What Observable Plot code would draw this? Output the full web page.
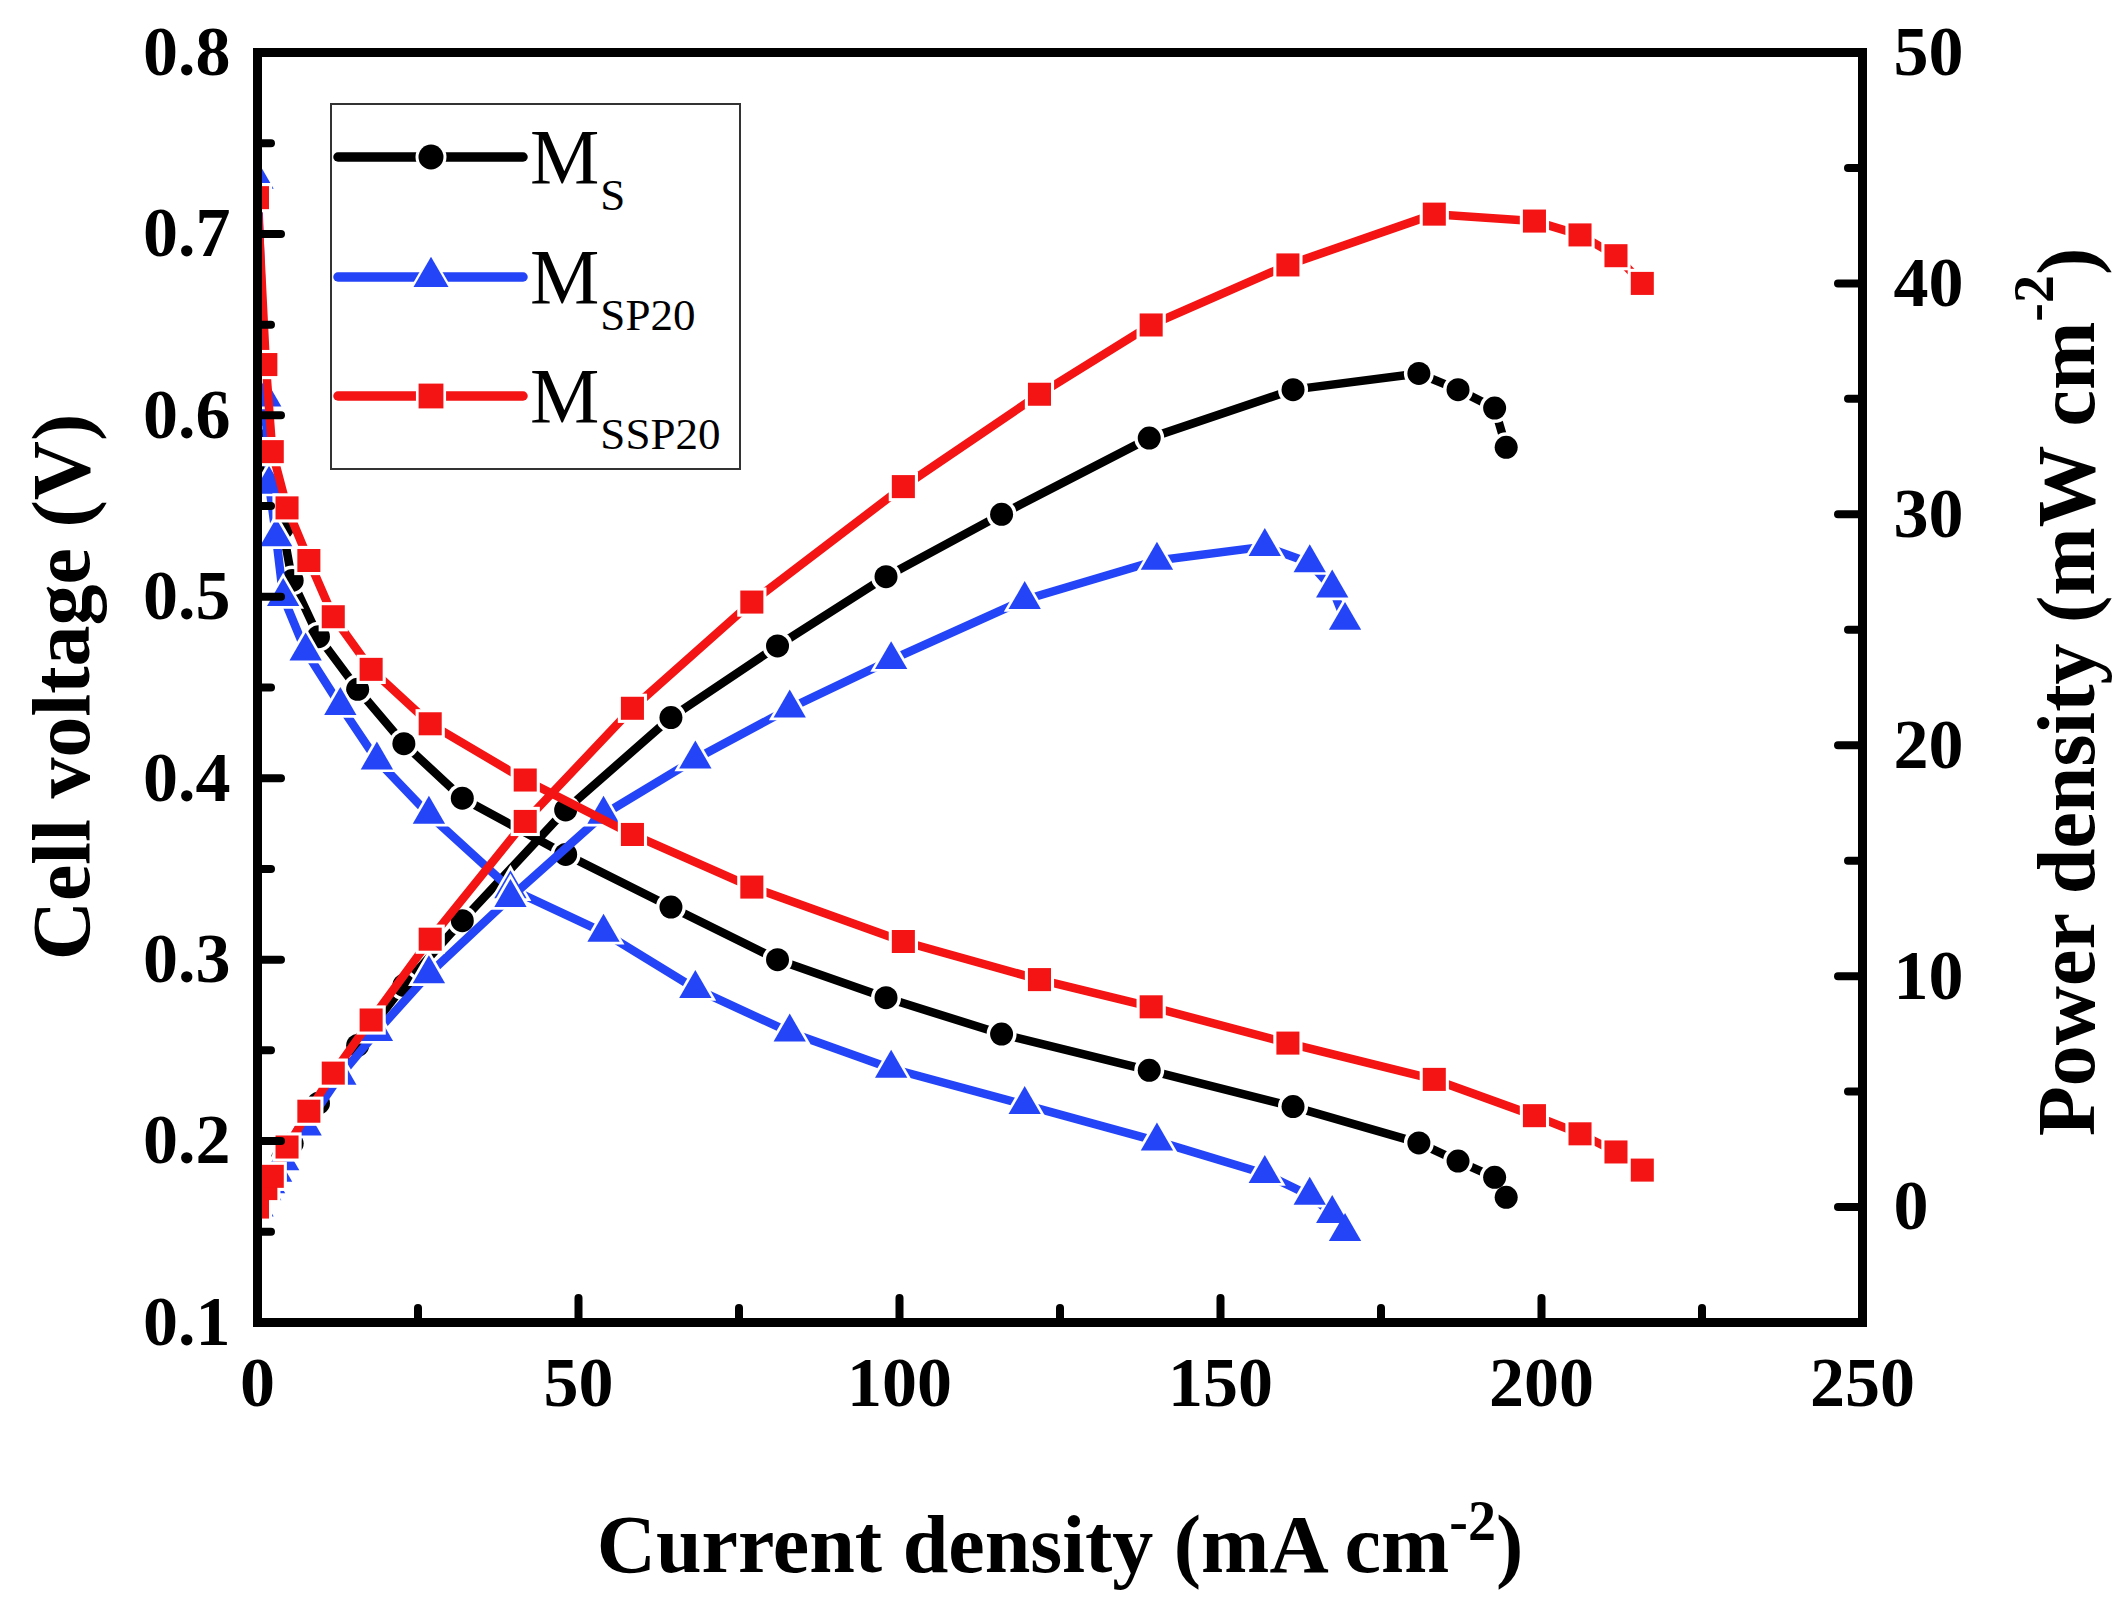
<!DOCTYPE html>
<html>
<head>
<meta charset="utf-8">
<script src="https://cdn.jsdelivr.net/npm/d3@7"></script>
<script src="https://cdn.jsdelivr.net/npm/@observablehq/plot@0.6"></script>
<style>
  body { margin: 0; background: #fff; }
</style>
</head>
<body>
<div id="chart"></div>
<script>
// densidad de corriente (mA cm-2), voltaje (V) y potencia (mW cm-2) de cada membrana
const msX = [0, 1.8, 3.9, 5.4, 9.5, 15.6, 22.8, 31.9, 48.0, 64.4, 81.0, 97.9, 115.9, 138.9, 161.3, 180.9, 187.0, 192.7, 194.5]
const msV = [0.60, 0.568, 0.538, 0.509, 0.478, 0.449, 0.419, 0.389, 0.358, 0.329, 0.300, 0.279, 0.259, 0.239, 0.219, 0.199, 0.189, 0.180, 0.169]
const msP = [0, 1.0, 2.1, 2.75, 4.5, 7.0, 9.6, 12.4, 17.2, 21.2, 24.3, 27.3, 30.0, 33.3, 35.4, 36.1, 35.4, 34.6, 32.9]

const msp20X = [0, 1.2, 1.8, 2.9, 4.0, 7.5, 12.9, 18.6, 26.7, 39.4, 53.9, 68.2, 82.9, 98.7, 119.5, 140.1, 156.9, 163.9, 167.4, 169.4]
const msp20V = [0.73, 0.61, 0.562, 0.533, 0.50, 0.47, 0.44, 0.41, 0.38, 0.339, 0.315, 0.284, 0.26, 0.24, 0.22, 0.20, 0.182, 0.170, 0.160, 0.150]
const msp20P = [0, 0.7, 1.0, 1.5, 2.0, 3.5, 5.7, 7.6, 10.1, 13.4, 17.0, 19.4, 21.6, 23.7, 26.3, 28.0, 28.6, 27.9, 26.8, 25.4]

const mssp20X = [0, 1.3, 2.3, 4.6, 8.0, 11.8, 17.7, 26.9, 41.7, 58.4, 77.0, 100.6, 121.8, 139.2, 160.5, 183.3, 198.9, 206.0, 211.6, 215.7]
const mssp20V = [0.72, 0.628, 0.58, 0.549, 0.52, 0.489, 0.46, 0.43, 0.399, 0.369, 0.340, 0.310, 0.289, 0.274, 0.254, 0.234, 0.214, 0.204, 0.194, 0.184]
const mssp20P = [0, 0.8, 1.33, 2.6, 4.15, 5.8, 8.1, 11.6, 16.7, 21.6, 26.2, 31.2, 35.2, 38.2, 40.8, 43.0, 42.7, 42.1, 41.2, 40.0]

// ticks
const xTicks = [0, 50, 100, 150, 200, 250]
const xMinor = [25, 75, 125, 175, 225]
const vTicks = [0.1, 0.2, 0.3, 0.4, 0.5, 0.6, 0.7, 0.8]
const vMinor = [0.15, 0.25, 0.35, 0.45, 0.55, 0.65, 0.75]
const pTicks = [0, 10, 20, 30, 40, 50]
const pMinor = [-5, 5, 15, 25, 35, 45]

const W = 2120, H = 1611
const mL = 257, mR = 258, mT = 52, mB = 289
const fw = W - mL - mR, fh = H - mT - mB

// la potencia (-5..50) se dibuja sobre la escala del voltaje (0.1..0.8)
const pToV = p => 0.1 + (p + 5) * 0.7 / 55
const vToP = v => Math.round((v - 0.1) * 55 / 0.7 - 5)

const series = [
  {name: "S", color: "#000000", symbol: "circle", r: 11.5, x: msX, v: msV, p: msP},
  {name: "SP20", color: "#2445f7", symbol: "triangle", r: 12, x: msp20X, v: msp20V, p: msp20P},
  {name: "SSP20", color: "#f41414", symbol: "square", r: 13, x: mssp20X, v: mssp20V, p: mssp20P}
]

const marks = []
for (const s of series) {
  const rows = s.x.map((x, i) => ({x, v: s.v[i], p: pToV(s.p[i])}))
  for (const y of ["v", "p"]) {
    marks.push(
      Plot.line(rows, {x: "x", y, stroke: s.color, strokeWidth: 8.5, strokeLinejoin: "round", clip: true}),
      Plot.dot(rows, {x: "x", y, symbol: s.symbol, r: s.r + 3.5, fill: "white", clip: true}),
      Plot.dot(rows, {x: "x", y, symbol: s.symbol, r: s.r, fill: s.color, clip: true})
    )
  }
}

const font = "'Liberation Serif', 'Times New Roman', serif"

const chart = Plot.plot({
  width: W,
  height: H,
  marginLeft: mL,
  marginRight: mR,
  marginTop: mT,
  marginBottom: mB,
  style: {fontFamily: font, fontWeight: "bold", background: "white", overflow: "visible"},
  x: {domain: [0, 250], axis: null},
  y: {domain: [0.1, 0.8], axis: null},
  marks: [
    ...marks,
    Plot.frame({stroke: "black", strokeWidth: 9}),
    // ticks hacia dentro
    Plot.tickY(vTicks, {insetRight: fw - 24, stroke: "black", strokeWidth: 8, strokeLinecap: "round"}),
    Plot.tickY(vMinor, {insetRight: fw - 14, stroke: "black", strokeWidth: 8, strokeLinecap: "round"}),
    Plot.tickY(pTicks.map(pToV), {insetLeft: fw - 24, stroke: "black", strokeWidth: 8, strokeLinecap: "round"}),
    Plot.tickY(pMinor.map(pToV), {insetLeft: fw - 14, stroke: "black", strokeWidth: 8, strokeLinecap: "round"}),
    Plot.tickX(xTicks, {insetTop: fh - 24, stroke: "black", strokeWidth: 8, strokeLinecap: "round"}),
    Plot.tickX(xMinor, {insetTop: fh - 14, stroke: "black", strokeWidth: 8, strokeLinecap: "round"}),
    Plot.axisY(vTicks, {anchor: "left", tickSize: 0, tickPadding: 27, fontSize: 70, fontWeight: "bold", tickFormat: d3.format(".1f"), label: null}),
    Plot.axisY(pTicks.map(pToV), {anchor: "right", tickSize: 0, tickPadding: 31, fontSize: 70, fontWeight: "bold", tickFormat: vToP, label: null}),
    Plot.axisX(xTicks, {anchor: "bottom", tickSize: 0, tickPadding: 34, fontSize: 70, fontWeight: "bold", label: null})
  ]
})

const svg = d3.select(chart)

// titulos de los ejes
svg.append("text")
  .attr("transform", "translate(61,687) rotate(-90)")
  .attr("text-anchor", "middle").attr("dominant-baseline", "central")
  .style("font", `bold 82px ${font}`)
  .text("Cell voltage (V)")

const rt = svg.append("text")
  .attr("transform", "translate(2066,692) rotate(-90)")
  .attr("text-anchor", "middle").attr("dominant-baseline", "central")
  .style("font", `bold 82px ${font}`)
rt.append("tspan").text("Power density (mW cm")
rt.append("tspan").attr("dy", -32).style("font-size", "56px").text("-2")
rt.append("tspan").attr("dy", 32).text(")")

const xt = svg.append("text")
  .attr("x", 1060).attr("y", 1572)
  .attr("text-anchor", "middle")
  .style("font", `bold 82px ${font}`)
xt.append("tspan").text("Current density (mA cm")
xt.append("tspan").attr("dy", -32).style("font-size", "56px").text("-2")
xt.append("tspan").attr("dy", 32).text(")")

// leyenda
const lg = svg.append("g")
lg.append("rect").attr("x", 331).attr("y", 104).attr("width", 409).attr("height", 365)
  .attr("fill", "white").attr("stroke", "#333").attr("stroke-width", 2)
const rowY = [157, 277, 396]
const symbols = {circle: d3.symbolCircle, triangle: d3.symbolTriangle, square: d3.symbolSquare}
series.forEach((s, i) => {
  const y = rowY[i]
  lg.append("line").attr("x1", 338).attr("x2", 523).attr("y1", y).attr("y2", y)
    .attr("stroke", s.color).attr("stroke-width", 9.5).attr("stroke-linecap", "round")
  lg.append("path").attr("transform", `translate(431,${y})`)
    .attr("d", d3.symbol(symbols[s.symbol], Math.PI * (s.r + 4) ** 2)()).attr("fill", "white")
  lg.append("path").attr("transform", `translate(431,${y})`)
    .attr("d", d3.symbol(symbols[s.symbol], Math.PI * (s.r + 1) ** 2)()).attr("fill", s.color)
  const t = lg.append("text").attr("x", 530).attr("y", y + 26)
    .attr("text-anchor", "start")
    .style("font", `normal 78px ${font}`)
  t.append("tspan").text("M")
  t.append("tspan").attr("dx", 1).attr("dy", 27).style("font-size", "45px").text(s.name)
})

d3.select("#chart").append(() => chart)
</script>
</body>
</html>
